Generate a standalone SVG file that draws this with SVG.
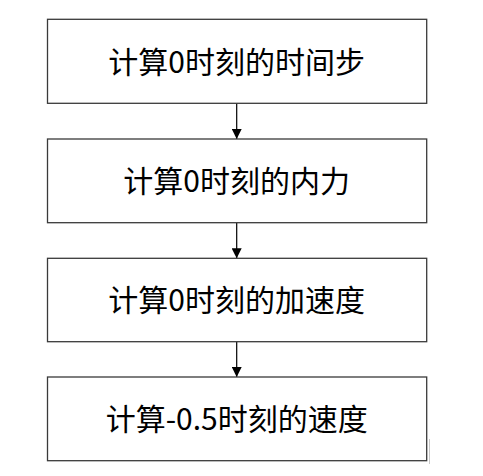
<svg xmlns="http://www.w3.org/2000/svg" width="483" height="476" viewBox="0 0 483 476">
<style>
.box{fill:#fff;stroke:#3a3a3a;stroke-width:1.3}
.lbl{font-family:"Noto Sans CJK SC","Liberation Sans",sans-serif;font-size:30px;fill:#000;text-anchor:middle}
.con{stroke:#000;stroke-width:1.2;fill:none}
</style>
<defs>
<marker id="ah" viewBox="0 0 10 10" refX="10" refY="5" markerWidth="10" markerHeight="10" markerUnits="userSpaceOnUse" orient="auto">
<path d="M0,0 L10,5 L0,10 Z" fill="#000"/>
</marker>
</defs>
<rect width="483" height="476" fill="#fff"/>
<g id="connectors">
<line class="con" x1="236.7" y1="103.3" x2="236.7" y2="139" marker-end="url(#ah)"/>
<line class="con" x1="236.7" y1="222.7" x2="236.7" y2="258.3" marker-end="url(#ah)"/>
<line class="con" x1="236.7" y1="341.7" x2="236.7" y2="377" marker-end="url(#ah)"/>
</g>
<g id="n1"><rect class="box" x="47.5" y="19.3" width="379.2" height="84"/><text class="lbl" x="236.7" y="72.5">计算0时刻的时间步</text></g>
<g id="n2"><rect class="box" x="47.5" y="139" width="379.2" height="83.7"/><text class="lbl" x="236.7" y="192">计算0时刻的内力</text></g>
<g id="n3"><rect class="box" x="47.5" y="258.3" width="379.2" height="83.4"/><text class="lbl" x="236.7" y="311">计算0时刻的加速度</text></g>
<g id="n4"><rect class="box" x="47.5" y="377" width="379.2" height="83.7"/><text class="lbl" x="236.7" y="430">计算-0.5时刻的速度</text></g>
<line x1="429.5" y1="439" x2="429.5" y2="464" stroke="#c8c8c8" stroke-width="1"/>
</svg>
